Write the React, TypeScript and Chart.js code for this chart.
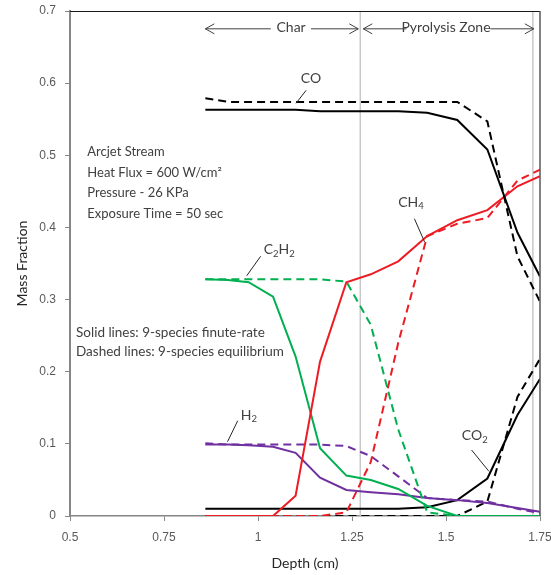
import React, { useEffect, useRef } from "react";
import { Chart, registerables } from "chart.js";
Chart.register(...registerables);

// ---- data ----
const depth = [0.86, 0.92, 0.975, 1.04, 1.1, 1.165, 1.235, 1.3, 1.373, 1.45, 1.53, 1.61, 1.69, 1.75];

// Solid lines: 9-species finite-rate
const coFinite = [0.563, 0.563, 0.563, 0.563, 0.563, 0.561, 0.561, 0.561, 0.561, 0.559, 0.549, 0.508, 0.393, 0.332];
const ch4Finite = [0, 0, 0, 0, 0.028, 0.214, 0.324, 0.335, 0.353, 0.388, 0.41, 0.424, 0.457, 0.471];
const c2h2Finite = [0.328, 0.327, 0.324, 0.304, 0.221, 0.094, 0.056, 0.05, 0.0375, 0.014, 0, 0, 0, 0];
const h2Finite = [0.099, 0.099, 0.098, 0.096, 0.0875, 0.053, 0.036, 0.033, 0.03, 0.025, 0.022, 0.018, 0.011, 0.006];
const co2Finite = [0.01, 0.01, 0.01, 0.01, 0.01, 0.01, 0.01, 0.01, 0.01, 0.012, 0.022, 0.052, 0.14, 0.19];

// Dashed lines: 9-species equilibrium
const coEq = [0.579, 0.574, 0.574, 0.574, 0.574, 0.574, 0.574, 0.574, 0.574, 0.574, 0.574, 0.547, 0.36, 0.297];
const ch4Eq = [0, 0, 0, 0, 0, 0, 0.005, 0.075, 0.24, 0.388, 0.405, 0.413, 0.465, 0.48];
const c2h2Eq = [0.328, 0.328, 0.328, 0.328, 0.328, 0.328, 0.325, 0.265, 0.12, 0.005, 0, 0, 0, 0];
const h2Eq = [0.101, 0.099, 0.099, 0.099, 0.099, 0.099, 0.097, 0.083, 0.055, 0.025, 0.022, 0.02, 0.01, 0.004];
const co2Eq = [0, 0, 0, 0, 0, 0, 0, 0, 0, 0, 0, 0.02, 0.165, 0.218];

// zone boundaries (depth, cm)
const zoneBoundaries = [1.272, 1.731];

// axis ticks
const xTicks = [0.5, 0.75, 1, 1.25, 1.5, 1.75];
const xTickLabels = ["0.5", "0.75", "1", "1.25", "1.5", "1.75"];
const yTicks = [0, 0.1, 0.2, 0.3, 0.4, 0.5, 0.6, 0.7];
const yTickLabels = ["0", "0.1", "0.2", "0.3", "0.4", "0.5", "0.6", "0.7"];

// texts
const infoLines = ["Arcjet Stream", "Heat Flux = 600 W/cm\u00b2", "Pressure - 26 KPa", "Exposure Time = 50 sec"];
const noteLines = ["Solid lines: 9-species finute-rate", "Dashed lines: 9-species equilibrium"];
const xTitle = "Depth (cm)";
const yTitle = "Mass Fraction";
const zoneNames = ["Char", "Pyrolysis Zone"];

const BLACK = "#000000";
const RED = "#ed1c24";
const GREEN = "#00b050";
const PURPLE = "#7030a0";
const TEXT = "#404040";
const FONT = "Lato, 'Open Sans', sans-serif";

type Part = [string, boolean];
const speciesLabels: { parts: Part[]; x: number; y: number; leader: number[] }[] = [
  { parts: [["CO", false]], x: 1.114, y: 0.607, leader: [1.128, 0.59, 1.101, 0.572] },
  { parts: [["C", false], ["2", true], ["H", false], ["2", true]], x: 1.015, y: 0.369, leader: [1.007, 0.36, 0.97, 0.333] },
  { parts: [["H", false], ["2", true]], x: 0.954, y: 0.14, leader: [0.946, 0.132, 0.919, 0.103] },
  { parts: [["CH", false], ["4", true]], x: 1.373, y: 0.435, leader: [1.416, 0.412, 1.443, 0.38] },
  { parts: [["CO", false], ["2", true]], x: 1.542, y: 0.111, leader: [1.568, 0.0915, 1.614, 0.062] },
];

function drawParts(ctx: CanvasRenderingContext2D, parts: Part[], x: number, y: number, size: number) {
  let cx = x;
  for (const [t, sub] of parts) {
    const s = sub ? size * 0.68 : size;
    ctx.font = `${s}px ${FONT}`;
    ctx.fillText(t, cx, sub ? y + size * 0.28 : y);
    cx += ctx.measureText(t).width;
  }
}

function arrowLine(ctx: CanvasRenderingContext2D, x1: number, x2: number, y: number, head: "left" | "right") {
  ctx.beginPath();
  ctx.moveTo(x1, y);
  ctx.lineTo(x2, y);
  if (head === "left") {
    ctx.moveTo(x1 + 9, y - 5);
    ctx.lineTo(x1, y);
    ctx.lineTo(x1 + 9, y + 5);
  } else {
    ctx.moveTo(x2 - 9, y - 5);
    ctx.lineTo(x2, y);
    ctx.lineTo(x2 - 9, y + 5);
  }
  ctx.stroke();
}

const annotPlugin = {
  id: "annot",
  afterDatasetsDraw(chart: any) {
    const { ctx, chartArea, scales } = chart;
    const xs = scales.x;
    const ys = scales.y;
    const px = (v: number) => xs.getPixelForValue(v);
    const py = (v: number) => ys.getPixelForValue(v);
    ctx.save();
    // top & right frame
    ctx.strokeStyle = "#1a1a1a";
    ctx.lineWidth = 1;
    ctx.beginPath();
    ctx.moveTo(chartArea.left, chartArea.top + 0.5);
    ctx.lineTo(chartArea.right, chartArea.top + 0.5);
    ctx.stroke();
    ctx.strokeStyle = "#595959";
    ctx.lineWidth = 1.5;
    ctx.beginPath();
    ctx.moveTo(chartArea.right, chartArea.top);
    ctx.lineTo(chartArea.right, chartArea.bottom);
    ctx.stroke();

    // zone arrows
    ctx.fillStyle = TEXT;
    ctx.strokeStyle = "#404040";
    ctx.lineWidth = 1;
    ctx.textBaseline = "middle";
    ctx.textAlign = "center";
    ctx.font = `14px ${FONT}`;
    const ay = py(0.676);
    ctx.fillText(zoneNames[0], px(1.088), ay - 1);
    arrowLine(ctx, px(depth[0]), px(1.034), ay + 0.5, "left");
    arrowLine(ctx, px(1.141), px(zoneBoundaries[0]) - 2, ay + 0.5, "right");
    ctx.fillText(zoneNames[1], px(1.5), ay - 1);
    arrowLine(ctx, px(zoneBoundaries[0]) + 3, px(1.395), ay + 0.5, "left");
    arrowLine(ctx, px(1.618), px(zoneBoundaries[1]) + 1, ay + 0.5, "right");

    // species labels
    ctx.textAlign = "left";
    ctx.fillStyle = TEXT;
    for (const l of speciesLabels) {
      drawParts(ctx, l.parts, px(l.x), py(l.y), 14);
      ctx.beginPath();
      ctx.moveTo(px(l.leader[0]), py(l.leader[1]));
      ctx.lineTo(px(l.leader[2]), py(l.leader[3]));
      ctx.strokeStyle = "#262626";
      ctx.lineWidth = 1;
      ctx.stroke();
    }
    // info text
    ctx.font = `13px ${FONT}`;
    ctx.fillStyle = TEXT;
    infoLines.forEach((t, i) => ctx.fillText(t, px(0.546), py(0.505) + i * 20.7));
    ctx.font = `13.5px ${FONT}`;
    noteLines.forEach((t, i) => ctx.fillText(t, px(0.516), py(0.254) + i * 19));

    // axis titles
    ctx.fillStyle = "#262626";
    ctx.font = `14px ${FONT}`;
    ctx.textAlign = "center";
    ctx.fillText(xTitle, (chartArea.left + chartArea.right) / 2, chartArea.bottom + 47);
    ctx.translate(chartArea.left - 48, (chartArea.top + chartArea.bottom) / 2);
    ctx.rotate(-Math.PI / 2);
    ctx.fillText(yTitle, 0, 0);
    ctx.restore();
  },
};

export default function App() {
  const ref = useRef<HTMLCanvasElement>(null);
  useEffect(() => {
    const mk = (label: string, data: number[], color: string, dashed: boolean) => ({
      label,
      data: depth.map((x, i) => ({ x, y: data[i] })),
      borderColor: color,
      backgroundColor: color,
      borderWidth: 2,
      borderDash: dashed ? [8, 5] : [],
      pointRadius: 0,
      tension: 0,
      fill: false,
    });
    const boundary = (v: number) => ({
      label: "boundary",
      data: [
        { x: v, y: yTicks[0] },
        { x: v, y: yTicks[yTicks.length - 1] },
      ],
      borderColor: "#c8c8c8",
      borderWidth: 1.5,
      pointRadius: 0,
      fill: false,
    });
    const chart = new Chart(ref.current!, {
      type: "line",
      data: {
        datasets: [
          mk("CO finite", coFinite, BLACK, false),
          mk("CO eq", coEq, BLACK, true),
          mk("CH4 finite", ch4Finite, RED, false),
          mk("CH4 eq", ch4Eq, RED, true),
          mk("C2H2 finite", c2h2Finite, GREEN, false),
          mk("C2H2 eq", c2h2Eq, GREEN, true),
          mk("H2 finite", h2Finite, PURPLE, false),
          mk("H2 eq", h2Eq, PURPLE, true),
          mk("CO2 finite", co2Finite, BLACK, false),
          mk("CO2 eq", co2Eq, BLACK, true),
          ...zoneBoundaries.map(boundary),
        ] as any,
      },
      options: {
        responsive: false,
        animation: false,
        layout: { padding: { left: 0, right: 11, top: 11, bottom: 0 } },
        plugins: { legend: { display: false }, tooltip: { enabled: false } },
        scales: {
          x: {
            type: "linear",
            min: xTicks[0],
            max: xTicks[xTicks.length - 1],
            afterBuildTicks: (s: any) => {
              s.ticks = xTicks.map((v) => ({ value: v }));
            },
            afterFit: (s: any) => {
              s.height = 59;
              s.paddingLeft = 0;
              s.paddingRight = 0;
            },
            grid: { drawOnChartArea: false, drawTicks: true, tickLength: 5, color: "#868686", lineWidth: 1 },
            border: { display: true, color: "#868686", width: 1.5 },
            ticks: {
              font: { family: "'Liberation Sans', Arial, sans-serif", size: 12 },
              color: "#595959",
              padding: 9,
              maxRotation: 0,
              autoSkip: false,
              callback: (_v: any, i: number) => xTickLabels[i],
            },
          },
          y: {
            type: "linear",
            min: yTicks[0],
            max: yTicks[yTicks.length - 1],
            afterBuildTicks: (s: any) => {
              s.ticks = yTicks.map((v) => ({ value: v }));
            },
            afterFit: (s: any) => {
              s.width = 70;
              s.paddingTop = 0;
              s.paddingBottom = 0;
            },
            grid: { drawOnChartArea: false, drawTicks: true, tickLength: 5, color: "#868686", lineWidth: 1 },
            border: { display: true, color: "#868686", width: 2 },
            ticks: {
              font: { family: "'Liberation Sans', Arial, sans-serif", size: 12 },
              color: "#595959",
              padding: 9,
              autoSkip: false,
              callback: (_v: any, i: number) => yTickLabels[i],
            },
          },
        },
      },
      plugins: [annotPlugin],
    });
    return () => chart.destroy();
  }, []);
  return (
    <div style={{ position: "absolute", left: 0, top: 0, width: 551, height: 575 }}>
      <canvas ref={ref} width={551} height={575} style={{ display: "block", width: 551, height: 575 }} />
    </div>
  );
}
